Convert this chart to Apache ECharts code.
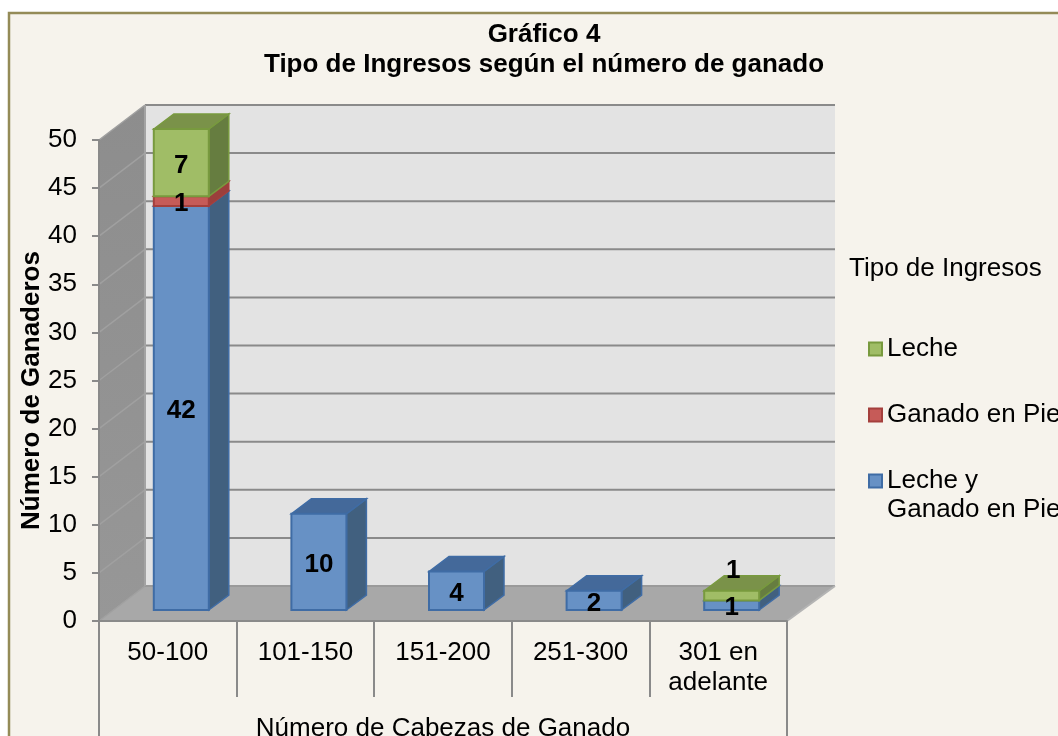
<!DOCTYPE html>
<html><head><meta charset="utf-8">
<style>html,body{margin:0;padding:0;background:#fff}#c{width:1058px;height:736px}</style>
<script src="https://cdn.jsdelivr.net/npm/echarts@6/dist/echarts.min.js"></script>
</head><body><div id="c"></div>
<script>
const categories = ['50-100','101-150','151-200','251-300','301 en\nadelante'];
const lecheGanado = [42,10,4,2,1];
const ganadoPie = [1,0,0,0,0];
const leche = [7,0,0,0,1];
const yTicks = [0,5,10,15,20,25,30,35,40,45,50];

const FONT = '"Liberation Sans", Arial, sans-serif';
const WALL_DX = 46, WALL_DY = -35, WALL_DX_RIGHT = 48;
const SHIFT_X = 13.5, SHIFT_Y = -11, BAR_W = 55, DEPTH_X = 20, DEPTH_Y = -15;
const styles = {
  'Leche y Ganado en Pie': {front:'#6791c5', side:'#41607f', top:'#44699a', border:'#3f6ca5'},
  'Ganado en Pie': {front:'#c65b58', side:'#9b3f3c', top:'#a8423f', border:'#a43f3c'},
  'Leche': {front:'#a0bd66', side:'#667d40', top:'#7a9249', border:'#789a3e'}
};
const stackOrder = [['Leche y Ganado en Pie',lecheGanado],['Ganado en Pie',ganadoPie],['Leche',leche]];

function poly(points, fill, stroke, lw){
  return {type:'polygon', shape:{points}, style:{fill, stroke: stroke||null, lineWidth: lw||0}};
}
function seg(x1,y1,x2,y2,stroke,lw){
  return {type:'line', shape:{x1,y1,x2,y2}, style:{stroke, lineWidth:lw||2}};
}
function backdrop(params, api){
  const cs = params.coordSys;
  const L = cs.x, R = cs.x + cs.width;
  const y0 = api.coord([0,0])[1], yT = api.coord([0,yTicks[yTicks.length-1]])[1];
  const els = [];
  els.push(poly([[L+WALL_DX,yT+WALL_DY],[R+WALL_DX_RIGHT,yT+WALL_DY],[R+WALL_DX_RIGHT,y0+WALL_DY],[L+WALL_DX,y0+WALL_DY]],'#e3e3e3'));
  els.push(poly([[L,yT],[L+WALL_DX,yT+WALL_DY],[L+WALL_DX,y0+WALL_DY],[L,y0]],
    {type:'linear',x:0,y:0,x2:0,y2:1,colorStops:[{offset:0,color:'#8d8d8d'},{offset:1,color:'#979797'}]}));
  els.push(poly([[L,y0],[L+WALL_DX,y0+WALL_DY],[R+WALL_DX_RIGHT,y0+WALL_DY],[R,y0]],'#a8a8a8'));
  yTicks.forEach(t=>{
    const y = api.coord([0,t])[1];
    els.push(seg(L,y,L+WALL_DX,y+WALL_DY,'#a0a0a0',1.5));
    if(t>0) els.push(seg(L+WALL_DX,y+WALL_DY,R+WALL_DX_RIGHT,y+WALL_DY,'#8a8a8a',2));
  });
  els.push(seg(L+WALL_DX,y0+WALL_DY,R+WALL_DX_RIGHT,y0+WALL_DY,'#9a9a9a',2));
  els.push(seg(L+WALL_DX,yT+WALL_DY,L+WALL_DX,y0+WALL_DY,'#a3a3a3',2));
  els.push(seg(R,y0,R+WALL_DX_RIGHT,y0+WALL_DY,'#b4b4b4',2));
  els.push(seg(L,y0,L,800,'#8a8a8a',2));
  els.push(seg(R,y0,R,800,'#8a8a8a',2));
  return {type:'group', children:els};
}
function barItem(name){
  const st = styles[name];
  return function(params, api){
    const c0 = api.coord([api.value(0), api.value(1)]);
    const c1 = api.coord([api.value(0), api.value(2)]);
    const xl = c0[0] + SHIFT_X - BAR_W/2, xr = xl + BAR_W;
    const yb = c0[1] + SHIFT_Y, yt = c1[1] + SHIFT_Y;
    const b = st.border;
    return {type:'group', children:[
      poly([[xr,yb],[xr+DEPTH_X,yb+DEPTH_Y],[xr+DEPTH_X,yt+DEPTH_Y],[xr,yt]],st.side,b,1.5),
      poly([[xl,yt],[xl+DEPTH_X,yt+DEPTH_Y],[xr+DEPTH_X,yt+DEPTH_Y],[xr,yt]],st.top,b,1.5),
      poly([[xl,yb],[xr,yb],[xr,yt],[xl,yt]],st.front,b,2)
    ]};
  };
}
function labelItem(params, api){
  const c = api.coord([api.value(0), api.value(1)]);
  return {type:'text', style:{
    x:c[0]+SHIFT_X+api.value(3), y:c[1]+SHIFT_Y+api.value(4)+3, text:String(api.value(2)),
    font:'bold 26px '+FONT, fill:'#000', align:'center', verticalAlign:'middle'}};
}
const barSeries = [], labelData = [];
const running = categories.map(()=>0);
stackOrder.forEach(([name,vals])=>{
  const data = [];
  vals.forEach((v,i)=>{
    if(!v) return;
    data.push([i,running[i],running[i]+v]);
    const lifted = name==='Leche' && i===categories.length-1;
    labelData.push([i,running[i]+v/2,v,lifted?1.5:0,lifted?-28:0]);
    running[i]+=v;
  });
  barSeries.push({type:'custom',name,renderItem:barItem(name),data,encode:{x:0,y:[1,2]},z:4,silent:true,
    itemStyle:{color:styles[name].front}});
});

const chart = echarts.init(document.getElementById('c'),null,{renderer:'canvas'});
chart.setOption({
  animation:false,
  backgroundColor:'#ffffff',
  textStyle:{fontFamily:FONT},
  graphic:[
    {type:'rect',z:-10,silent:true,shape:{x:9,y:13,width:1100,height:760},style:{fill:'#f6f3ec',stroke:'#948b57',lineWidth:2.5}},
    {type:'text',z:10,silent:true,style:{x:887,y:510,text:'Ganado en Pie',font:'26px '+FONT,fill:'#000',verticalAlign:'middle'}}
  ],
  title:[
    {text:'Gráfico 4\nTipo de Ingresos según el número de ganado',left:539,top:15,textAlign:'center',
      textStyle:{fontFamily:FONT,fontSize:26,fontWeight:'bold',color:'#000',lineHeight:30}},
    {text:'Tipo de Ingresos',left:844,top:251,textStyle:{fontFamily:FONT,fontSize:26,fontWeight:'normal',color:'#000'}}
  ],
  grid:{left:99,right:271,top:140,bottom:115,outerBoundsMode:'none'},
  xAxis:{type:'category',data:categories,z:5,boundaryGap:true,
    axisLine:{show:true,lineStyle:{color:'#8a8a8a',width:2}},
    axisTick:{show:true,length:76,lineStyle:{color:'#8a8a8a',width:2}},
    axisLabel:{interval:0,margin:17,fontSize:26,color:'#000',lineHeight:30,fontFamily:FONT,verticalAlign:'top'},
    name:'Número de Cabezas de Ganado',nameLocation:'middle',nameGap:95,nameMoveOverlap:false,
    nameTextStyle:{fontSize:26,color:'#000',fontFamily:FONT},
    splitLine:{show:false}},
  yAxis:{type:'value',min:0,max:50,interval:5,z:5,
    axisLine:{show:true,lineStyle:{color:'#8a8a8a',width:2}},
    axisTick:{show:true,length:7,lineStyle:{color:'#8a8a8a',width:2}},
    axisLabel:{margin:22,fontSize:26,color:'#000',fontFamily:FONT,padding:[6,0,0,0]},
    name:'Número de Ganaderos',nameLocation:'middle',nameGap:54,nameMoveOverlap:false,
    nameTextStyle:{fontSize:26,fontWeight:'bold',color:'#000',fontFamily:FONT,padding:[0,20,0,0]},
    splitLine:{show:false}},
  legend:{orient:'vertical',left:863,top:331,itemWidth:13,itemHeight:13,itemGap:40,itemStyle:{borderWidth:2},
    selectedMode:false,icon:'rect',
    formatter:n=>n==='Leche y Ganado en Pie'?'Leche y':n,
    textStyle:{fontFamily:FONT,fontSize:26,color:'#000'},
    data:['Leche','Ganado en Pie','Leche y Ganado en Pie'].map(n=>({name:n,itemStyle:{color:styles[n].front,borderColor:styles[n].border,borderWidth:2}}))},
  series:[
    {type:'custom',name:'walls',renderItem:backdrop,data:[[0,0]],encode:{x:0,y:1},z:1,silent:true},
    ...barSeries,
    {type:'custom',name:'labels',renderItem:labelItem,data:labelData,encode:{x:0,y:1},z:6,silent:true}
  ]
});
</script></body></html>
